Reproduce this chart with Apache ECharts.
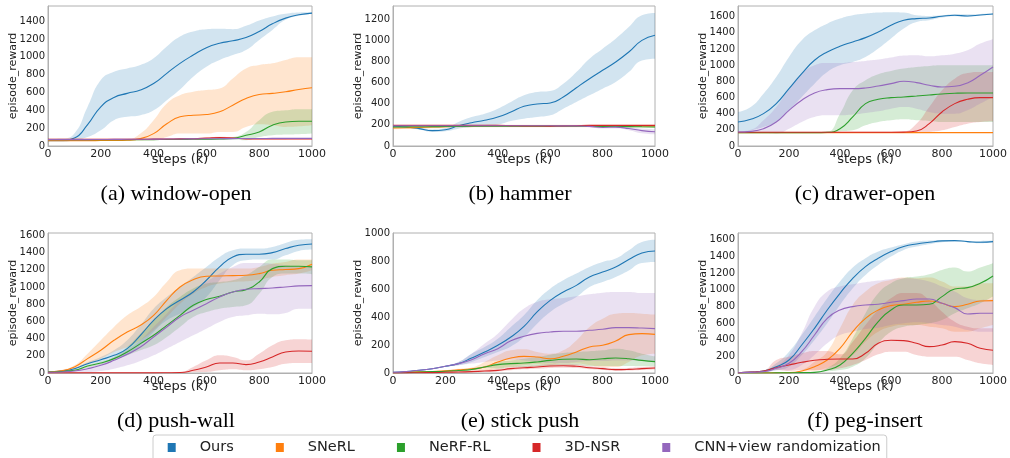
<!DOCTYPE html>
<html>
<head>
<meta charset="utf-8">
<title>episode_reward curves</title>
<script src="https://cdn.jsdelivr.net/npm/echarts@6/dist/echarts.min.js"></script>
<style>
  html, body { margin: 0; padding: 0; background: #fff; }
  #main { width: 1010px; height: 458px; }
</style>
</head>
<body>
<div id="main"></div>
<script>
// x steps (k), one point every 50k
var steps = [0,50,100,150,200,250,300,350,400,450,500,550,600,650,700,750,800,850,900,950,1000];
var methods = ['Ours', 'SNeRL', 'NeRF-RL', '3D-NSR', 'CNN+view randomization'];
var captions = ['(a) window-open', '(b) hammer', '(c) drawer-open', '(d) push-wall', '(e) stick push', '(f) peg-insert'];
var yTop = [1570, 1323, 1731, 1627, 1000, 1679];

// order in each list: Ours, SNeRL, NeRF-RL, 3D-NSR, CNN+view randomization
// (a) window-open
var windowOpenMean = [
  [65,65,90,240,440,545,590,627,700,815,927,1020,1103,1152,1180,1216,1284,1370,1434,1471,1490],
  [60,60,60,60,61,62,65,83,139,250,327,345,353,383,458,533,578,590,608,634,653],
  [70,70,70,70,70,70,70,70,72,73,74,75,76,78,85,120,158,233,270,278,278],
  [75,75,75,75,75,75,75,76,77,78,80,82,88,95,90,80,78,78,79,80,80],
  [72,72,72,72,73,74,75,76,77,78,79,80,81,82,83,84,84,85,85,85,85]
];
var windowOpenLow = [
  [45,45,64,100,176,290,327,345,400,514,634,777,890,965,1020,1077,1190,1302,1415,1460,1483],
  [55,55,55,55,56,57,58,62,64,100,139,139,139,158,158,214,244,233,214,221,233],
  [66,66,66,66,66,66,66,66,68,69,70,70,70,70,70,64,100,120,128,131,139],
  [70,70,70,70,70,70,70,71,72,73,75,77,82,88,84,75,73,73,74,75,75],
  [68,68,68,68,69,70,71,72,73,74,75,76,77,78,79,80,80,81,81,81,81]
];
var windowOpenHigh = [
  [80,83,140,440,740,833,870,908,983,1115,1227,1284,1310,1314,1310,1348,1408,1453,1483,1498,1500],
  [65,65,65,65,66,67,72,139,290,477,570,608,627,645,758,870,908,927,965,995,995],
  [74,74,74,74,74,74,74,74,76,77,78,80,82,85,100,158,290,383,400,413,413],
  [80,80,80,80,80,80,80,81,82,83,86,88,95,103,97,86,83,83,84,85,85],
  [76,76,76,76,77,78,79,80,81,82,83,84,85,86,87,88,88,89,89,89,89]
];

// (b) hammer
var hammerMean = [
  [186,180,164,145,154,192,220,243,274,321,375,397,406,463,551,636,715,794,888,998,1046],
  [170,172,175,179,183,186,188,189,190,190,190,190,190,190,190,190,190,190,190,190,190],
  [180,181,182,183,184,185,186,187,188,188,188,188,188,188,188,186,185,184,183,182,180],
  [195,195,195,195,195,195,195,195,195,193,190,189,188,190,193,195,195,195,195,195,195],
  [192,192,192,192,192,192,192,192,192,192,192,191,191,190,190,185,175,178,165,145,135]
];
var hammerLow = [
  [180,172,155,132,139,164,180,189,202,236,258,274,290,353,416,479,542,605,699,809,825],
  [158,160,163,167,171,174,176,177,178,178,178,178,178,178,178,178,178,178,178,178,178],
  [174,175,176,177,178,179,180,181,182,182,182,182,182,182,182,180,179,178,177,176,174],
  [191,191,191,191,191,191,191,191,191,189,186,185,184,186,189,191,191,191,191,191,191],
  [188,188,188,188,188,188,188,188,188,188,188,187,187,186,185,178,165,165,150,120,110]
];
var hammerHigh = [
  [192,188,172,157,170,227,274,305,353,416,479,510,520,589,699,825,920,1014,1124,1235,1257],
  [180,182,185,189,193,196,198,199,200,200,200,200,200,200,200,200,200,200,200,200,200],
  [186,187,188,189,190,191,192,193,194,194,194,194,194,194,194,192,191,190,189,188,186],
  [199,199,199,199,199,199,199,199,199,197,194,193,192,194,197,199,199,199,199,199,199],
  [196,196,196,196,196,196,196,196,196,196,196,195,195,194,195,192,185,190,180,165,158]
];

// (c) drawer-open
var drawerOpenMean = [
  [297,330,400,524,709,895,1060,1163,1233,1287,1340,1410,1493,1555,1575,1583,1604,1616,1608,1620,1633],
  [165,165,165,165,165,165,165,165,165,165,165,165,165,165,165,165,165,165,165,165,165],
  [165,165,165,165,165,165,165,168,214,359,524,577,598,606,618,631,643,652,656,656,656],
  [170,170,170,170,170,170,170,170,170,170,170,170,170,172,186,276,421,524,577,598,598],
  [173,181,214,297,441,565,656,697,709,709,718,742,771,800,784,751,730,738,780,874,977]
];
var drawerOpenLow = [
  [173,194,235,297,441,606,771,915,998,1039,1101,1204,1328,1452,1534,1555,1588,1604,1596,1612,1625],
  [161,161,161,161,161,161,161,161,161,161,161,161,161,161,161,161,161,161,161,161,161],
  [160,160,160,160,160,160,160,160,181,194,256,297,318,330,318,309,297,297,297,297,297],
  [165,165,165,165,165,165,165,165,165,165,165,165,165,165,161,173,194,235,276,297,305],
  [165,165,160,153,214,297,359,379,379,388,408,429,462,482,462,421,400,400,441,524,606]
];
var drawerOpenHigh = [
  [420,482,647,853,1101,1307,1430,1513,1575,1616,1637,1650,1654,1650,1616,1608,1616,1629,1629,1633,1641],
  [169,169,169,169,169,169,169,169,169,169,169,169,169,169,169,169,169,169,169,169,169],
  [170,170,170,170,170,170,170,175,400,689,812,887,928,957,977,990,998,998,998,998,998],
  [175,175,175,175,175,175,175,175,175,175,175,175,175,180,276,482,689,833,903,915,915],
  [180,200,318,482,709,895,998,1027,1027,1039,1052,1068,1093,1118,1122,1109,1122,1142,1184,1266,1320]
];

// (d) push-wall
var pushWallMean = [
  [12,23,50,108,155,205,283,438,612,748,845,942,1078,1233,1349,1380,1380,1399,1446,1484,1500],
  [12,25,70,167,264,380,477,554,670,845,1000,1085,1124,1128,1132,1136,1155,1194,1202,1213,1264],
  [10,18,31,81,116,167,244,341,438,554,670,787,853,892,942,969,1058,1213,1240,1240,1233],
  [2,2,2,2,2,2,2,2,2,3,5,31,70,116,116,97,128,186,244,256,252],
  [8,12,23,50,89,147,217,302,419,535,651,729,806,884,942,973,981,988,1000,1012,1016]
];
var pushWallLow = [
  [5,15,40,95,128,167,205,322,477,612,690,767,884,1078,1252,1310,1318,1318,1368,1419,1434],
  [5,15,50,108,167,244,302,380,496,651,806,922,1000,1039,1058,1066,1085,1116,1136,1155,1194],
  [5,12,25,65,100,150,205,264,322,419,535,651,709,748,767,787,922,1116,1155,1155,1147],
  [0,0,0,0,0,0,0,0,0,0,0,12,12,31,43,31,43,70,108,116,116],
  [5,8,12,12,23,50,89,140,205,283,360,438,515,593,651,670,690,682,698,748,748]
];
var pushWallHigh = [
  [20,32,60,125,186,264,380,554,748,884,1000,1116,1233,1349,1426,1446,1446,1465,1512,1550,1554],
  [20,35,89,225,380,535,670,767,884,1058,1194,1213,1213,1213,1213,1213,1233,1271,1291,1318,1318],
  [15,25,40,95,130,185,302,457,612,767,884,981,1039,1058,1078,1136,1233,1318,1318,1310,1310],
  [4,4,4,4,4,4,4,4,4,6,10,70,147,205,186,147,225,322,380,392,388],
  [12,18,30,70,110,170,264,380,535,690,845,961,1058,1155,1233,1279,1279,1271,1252,1233,1233]
];

// (e) stick push
var stickPushMean = [
  [5,10,20,30,48,67,107,150,198,257,333,436,519,579,626,686,721,757,810,857,871],
  [2,5,8,11,15,22,30,43,79,107,119,114,102,119,150,186,198,229,274,281,276],
  [2,4,7,10,12,18,25,43,60,67,71,79,90,98,100,95,102,107,102,90,81],
  [0,1,2,3,5,7,10,14,19,31,38,43,50,52,48,38,31,24,26,31,36],
  [5,10,20,30,48,67,95,138,174,230,262,283,293,298,298,305,312,324,324,321,317]
];
var stickPushLow = [
  [4,9,18,28,45,55,79,114,150,190,257,352,436,495,543,614,650,686,733,786,793],
  [1,3,5,8,10,15,20,19,31,43,55,62,62,67,67,55,43,43,79,126,138],
  [1,2,4,6,8,12,18,35,31,43,43,48,50,55,55,50,50,50,50,48,48],
  [0,0,0,0,1,2,4,7,11,20,26,30,36,38,35,27,21,15,17,21,25],
  [4,9,18,28,44,55,67,79,90,95,90,79,71,71,79,86,86,90,90,86,79]
];
var stickPushHigh = [
  [6,11,22,32,50,79,138,186,245,329,412,519,602,662,710,757,793,817,876,936,952],
  [3,7,11,14,20,30,40,79,126,162,169,150,138,162,233,329,388,424,429,424,417],
  [3,6,10,14,16,24,32,50,79,90,102,114,131,143,150,155,162,174,162,138,119],
  [2,3,5,7,10,13,17,22,28,42,50,56,64,66,62,50,42,34,36,42,48],
  [6,11,22,32,52,79,138,210,281,376,460,507,526,536,548,562,574,579,579,571,571]
];

// (f) peg-insert
var pegInsertMean = [
  [3,10,24,76,156,336,536,756,956,1136,1276,1376,1456,1516,1548,1568,1584,1588,1576,1568,1576],
  [0,0,1,2,4,24,76,156,296,496,656,756,808,824,848,864,836,796,824,864,868],
  [0,0,0,1,2,4,8,36,96,236,416,616,756,816,816,824,916,1008,1024,1076,1164],
  [3,10,24,64,96,128,152,164,168,168,236,356,392,388,356,316,336,376,356,296,272],
  [3,8,16,56,116,256,456,656,756,796,816,824,848,868,888,888,836,784,708,716,716]
];
var pegInsertLow = [
  [2,5,10,36,76,216,396,596,816,1016,1176,1296,1396,1476,1516,1544,1568,1576,1568,1556,1568],
  [0,0,0,1,2,15,24,64,116,216,376,496,556,576,576,556,536,496,496,536,576],
  [0,0,0,0,1,2,4,20,36,76,176,356,496,556,576,596,636,716,776,836,916],
  [2,5,20,36,24,36,36,36,56,96,156,224,256,256,216,196,196,196,156,116,96],
  [2,5,8,30,36,96,216,356,456,496,528,544,576,596,608,596,576,556,516,496,496]
];
var pegInsertHigh = [
  [4,15,30,116,256,456,676,896,1096,1264,1376,1456,1504,1544,1576,1588,1596,1596,1584,1584,1588],
  [1,1,2,4,8,35,136,256,536,816,976,1076,1116,1144,1136,1144,1096,1036,1036,1076,1076],
  [1,1,1,2,4,8,14,60,176,416,716,956,1076,1136,1156,1184,1236,1264,1216,1264,1316],
  [4,15,30,156,196,236,264,264,224,376,576,756,896,960,960,876,736,616,556,536,536],
  [4,10,20,80,216,476,796,976,1036,1064,1088,1108,1128,1136,1128,1096,1036,976,896,876,880]
];

var colors = ['#1f77b4', '#ff7f0e', '#2ca02c', '#d62728', '#9467bd'];
var fillColors = ['rgba(31,119,180,0.2)', 'rgba(255,127,14,0.2)', 'rgba(44,160,44,0.2)', 'rgba(214,39,40,0.2)', 'rgba(148,103,189,0.2)'];

var panelMean = [windowOpenMean, hammerMean, drawerOpenMean, pushWallMean, stickPushMean, pegInsertMean];
var panelLow = [windowOpenLow, hammerLow, drawerOpenLow, pushWallLow, stickPushLow, pegInsertLow];
var panelHigh = [windowOpenHigh, hammerHigh, drawerOpenHigh, pushWallHigh, stickPushHigh, pegInsertHigh];

var gridLeft = [48, 393, 738, 48, 393, 738];
var gridTop = [6, 6, 6, 233, 233, 233];
var gridWidth = [264, 262, 262, 264, 262, 262];
var captionX = [176, 520, 865, 176, 520, 865];
var captionY = [194, 194, 194, 421, 421, 421];

var font = 'DejaVu Sans';
var spine = '#b0b0b0';
var smoothness = 0.5;

var grids = [], xAxes = [], yAxes = [], series = [], graphics = [];

for (var p = 0; p < 6; p++) {
  grids.push({
    left: gridLeft[p], top: gridTop[p], width: gridWidth[p], height: 140,
    show: true, borderColor: spine, borderWidth: 1, backgroundColor: '#fff'
  });
  xAxes.push({
    type: 'category', gridIndex: p, data: steps, boundaryGap: false,
    axisLine: { show: true, lineStyle: { color: spine } },
    axisTick: { show: false },
    axisLabel: { interval: 3, fontFamily: font, fontSize: 11, color: '#222', margin: 3 },
    splitLine: { show: false },
    name: 'steps (k)', nameLocation: 'middle', nameGap: 7, nameMoveOverlap: false,
    nameTextStyle: { fontFamily: font, fontSize: 13, color: '#222' }
  });
  yAxes.push({
    type: 'value', gridIndex: p, min: 0, max: yTop[p], interval: 200,
    axisLine: { show: true, lineStyle: { color: spine } },
    axisTick: { show: false },
    axisLabel: {
      fontFamily: font, fontSize: 10, color: '#222', margin: 3,
      showMaxLabel: yTop[p] % 200 === 0,
      formatter: function (v) { return String(v); }
    },
    splitLine: { show: false },
    name: 'episode_reward', nameLocation: 'middle', nameGap: 29, nameMoveOverlap: false,
    nameTextStyle: { fontFamily: font, fontSize: 11, color: '#222' }
  });

  for (var m = 0; m < 5; m++) {
    var lo = panelLow[p][m], hi = panelHigh[p][m];
    var width = lo.map(function (v, i) { return hi[i] - v; });
    var stackId = 'band' + p + '_' + m;
    series.push({
      type: 'line', xAxisIndex: p, yAxisIndex: p, data: lo, stack: stackId,
      smooth: smoothness, symbol: 'none', silent: true,
      lineStyle: { opacity: 0 }, itemStyle: { color: colors[m] }
    });
    series.push({
      type: 'line', xAxisIndex: p, yAxisIndex: p, data: width, stack: stackId,
      smooth: smoothness, symbol: 'none', silent: true,
      lineStyle: { opacity: 0 }, itemStyle: { color: colors[m] },
      areaStyle: { color: fillColors[m], opacity: 1 }
    });
    series.push({
      name: methods[m], type: 'line', xAxisIndex: p, yAxisIndex: p, data: panelMean[p][m],
      smooth: smoothness, symbol: 'none', silent: true,
      itemStyle: { color: colors[m] },
      lineStyle: { color: colors[m], width: 1.1 }
    });
  }

  graphics.push({
    type: 'text', x: captionX[p], y: captionY[p],
    style: {
      text: captions[p], fill: '#000', align: 'center', verticalAlign: 'middle',
      font: '22px "Liberation Serif", "Times New Roman", serif'
    }
  });
}

var chart = echarts.init(document.getElementById('main'));
chart.setOption({
  animation: false,
  backgroundColor: '#fff',
  grid: grids,
  xAxis: xAxes,
  yAxis: yAxes,
  series: series,
  graphic: graphics,
  legend: {
    data: methods, left: 153, top: 435, orient: 'horizontal',
    icon: 'rect', itemWidth: 8, itemHeight: 9, itemGap: 42,
    padding: [5, 6, 25, 14.7],
    backgroundColor: '#fff', borderColor: '#cccccc', borderWidth: 1, borderRadius: 3,
    selectedMode: false,
    textStyle: { fontFamily: font, fontSize: 14.5, color: '#222', padding: [0, 0, 0, 19] }
  }
});
</script>
</body>
</html>
